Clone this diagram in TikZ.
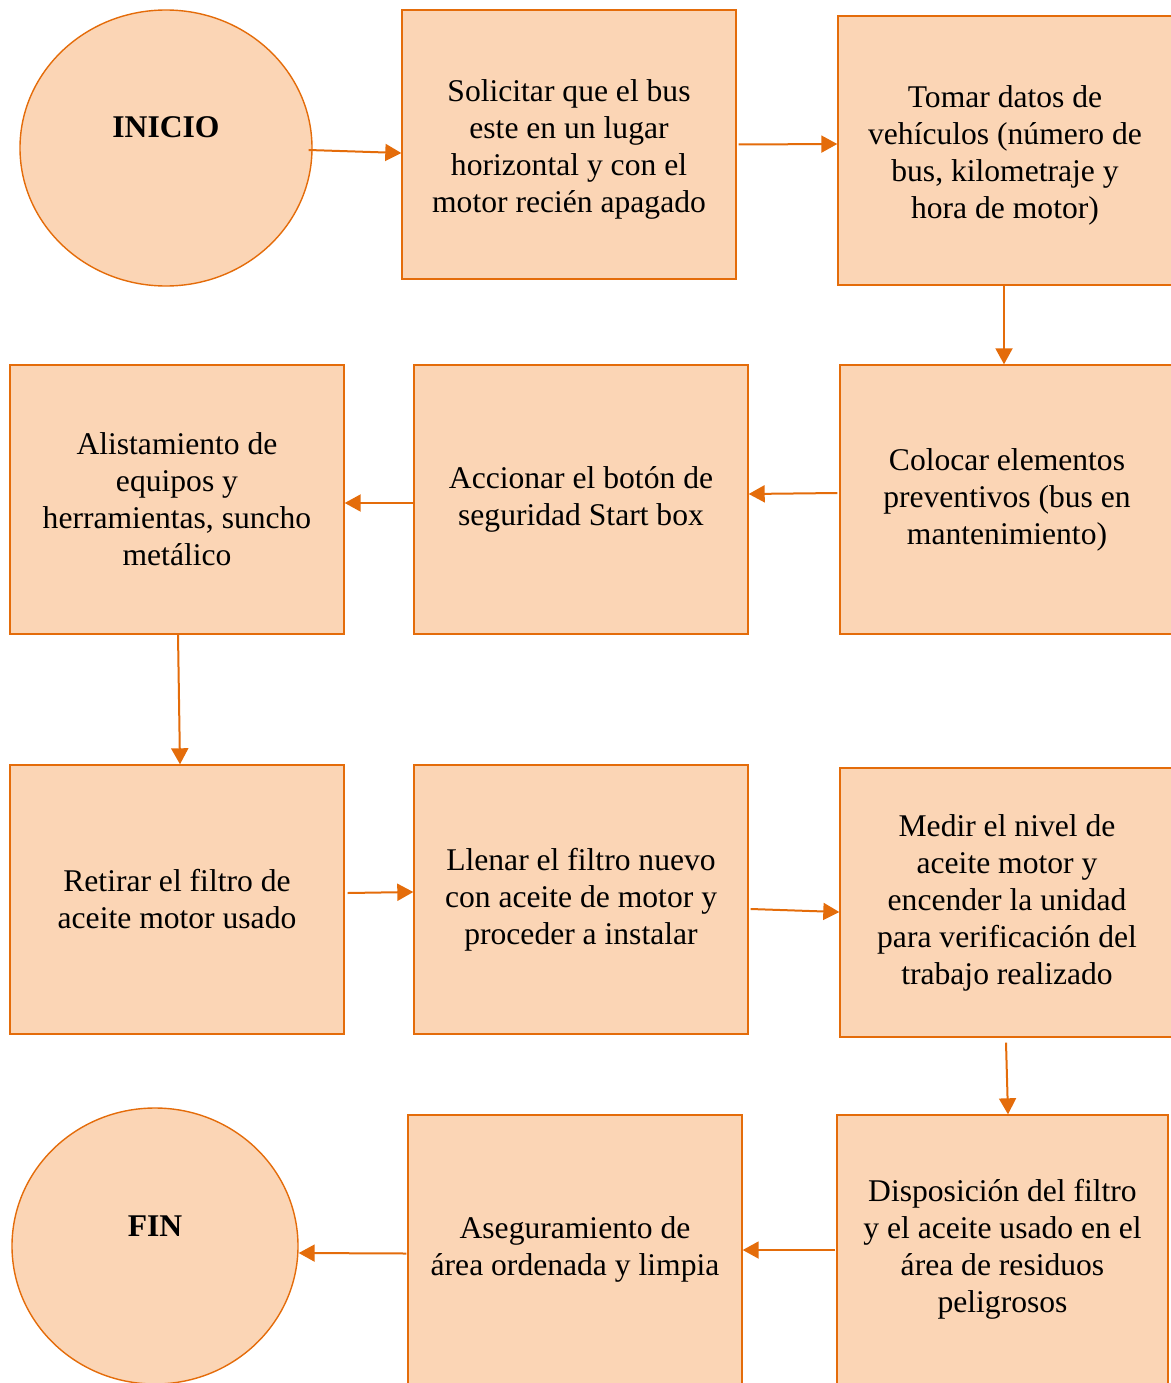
\documentclass[tikz,border=0pt]{standalone}
\usepackage{fontspec}
\setmainfont{Liberation Serif}
\usetikzlibrary{shapes.geometric,arrows.meta}
\definecolor{orng}{RGB}{228,108,10}
\definecolor{peach}{RGB}{251,213,181}
\tikzset{
  txt/.style={font=\fontsize{31.6}{37}\selectfont},
  stepbox/.style={draw=orng, line width=1.4pt, fill=peach, minimum width=334pt, minimum height=269pt, inner sep=0pt, align=center, txt},
  lowtext/.style={label={[txt,align=center,yshift=-5pt]center:#1}},
  term/.style={draw=orng, line width=1.4pt, fill=peach, ellipse, inner sep=0pt},
  conn/.style={draw=orng, line width=2pt, -{Triangle[length=16pt,width=17pt]}, orng}
}
\begin{document}
\begin{tikzpicture}[x=1pt,y=1pt]
\useasboundingbox (0,0) rectangle (1170,-1383);
\node[term, minimum width=292pt, minimum height=276pt, label={[txt,font=\fontsize{31.6}{37}\selectfont\bfseries,yshift=21pt]center:INICIO}] (inicio) at (166,-148) {};
\node[term, minimum width=286pt, minimum height=276pt, label={[txt,font=\fontsize{31.6}{37}\selectfont\bfseries,yshift=20pt]center:FIN}] (fin) at (155,-1246) {};

\node[stepbox, lowtext={Solicitar que el bus\\este en un lugar\\horizontal y con el\\motor recién apagado}] (b1) at (569,-144.5) {};
\node[stepbox, lowtext={Tomar datos de\\vehículos (número de\\bus, kilometraje y\\hora de motor)}] (b2) at (1005,-150.5) {};
\node[stepbox] (b3) at (1007,-499.5) {Colocar elementos\\preventivos (bus en\\mantenimiento)};
\node[stepbox] (b4) at (581,-499.5) {Accionar el botón de\\seguridad Start box};
\node[stepbox] (b5) at (177,-499.5) {Alistamiento de\\equipos y\\herramientas, suncho\\metálico};
\node[stepbox] (b6) at (177,-899.5) {Retirar el filtro de\\aceite motor usado};
\node[stepbox] (b7) at (581,-899.5) {Llenar el filtro nuevo\\con aceite de motor y\\proceder a instalar};
\node[stepbox] (b8) at (1007,-902.5) {Medir el nivel de\\aceite motor y\\encender la unidad\\para verificación del\\trabajo realizado};
\node[stepbox, minimum width=331pt] (b9) at (1002.5,-1249.5) {Disposición del filtro\\y el aceite usado en el\\área de residuos\\peligrosos};
\node[stepbox] (b10) at (575,-1249.5) {Aseguramiento de\\área ordenada y limpia};

\draw[conn] ([xshift=-4pt,yshift=-2pt]inicio.east) -- ([yshift=-8.5pt]b1.west);
\draw[conn] ([xshift=2pt]b1.east) -- ([yshift=6.5pt]b2.west);
\draw[conn] ([xshift=-1pt]b2.south) -- ([xshift=-3pt]b3.north);
\draw[conn] ([xshift=-2pt,yshift=6.5pt]b3.west) -- ([yshift=5.5pt]b4.east);
\draw[conn] ([yshift=-3.5pt]b4.west) -- ([yshift=-3.5pt]b5.east);
\draw[conn] ([xshift=1pt]b5.south) -- ([xshift=3pt]b6.north);
\draw[conn] ([xshift=3pt,yshift=6.5pt]b6.east) -- ([yshift=7.5pt]b7.west);
\draw[conn] ([xshift=2pt,yshift=-9.5pt]b7.east) -- ([yshift=-9.5pt]b8.west);
\draw[conn] ([xshift=-1pt,yshift=-5pt]b8.south) -- ([xshift=5.5pt]b9.north);
\draw[conn] ([xshift=-1pt,yshift=-0.5pt]b9.west) -- ([yshift=-0.5pt]b10.east);
\draw[conn] ([xshift=-1pt,yshift=-4pt]b10.west) -- ([yshift=-7pt]fin.east);
\end{tikzpicture}
\end{document}
